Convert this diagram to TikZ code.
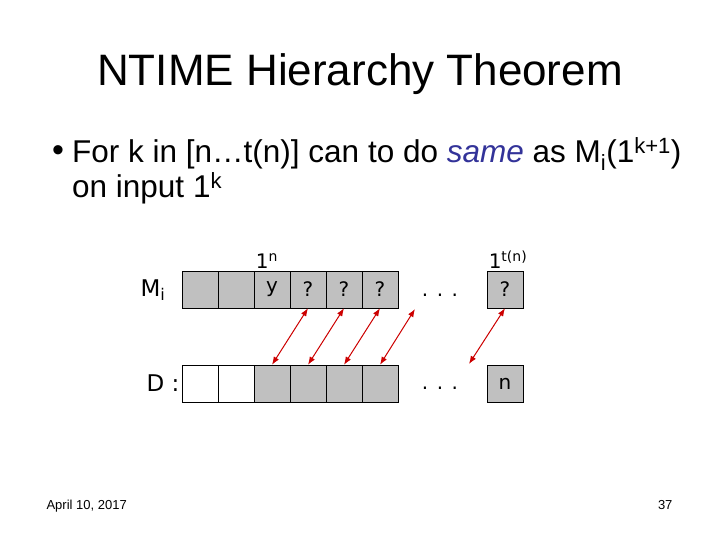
\documentclass[tikz,border=0pt]{standalone}
\usepackage{fontspec}
\setmainfont{Liberation Sans}
\newfontfamily\tapefont{DejaVu Sans}
\usepackage{xcolor}
\usetikzlibrary{arrows.meta}
\definecolor{cellgray}{RGB}{192,192,192}
\definecolor{arrowred}{RGB}{204,0,0}
\definecolor{sameblue}{RGB}{51,51,153}

\begin{document}
\begin{tikzpicture}[x=1pt, y=1pt, >={Latex[length=8pt, width=6pt]}]
\tikzstyle{every node}=[font=\tapefont\fontsize{20}{24}\selectfont]
\tikzstyle{cell}=[draw, fill=cellgray, minimum width=36pt, minimum height=37pt, inner sep=0pt]
\tikzstyle{blank}=[cell, fill=white]
\tikzstyle{link}=[<->, arrowred, line width=1pt]
\tikzstyle{slide}=[font=\normalfont\fontsize{31.5}{38}\selectfont, anchor=base west, inner sep=0pt]

\useasboundingbox (0, 0) rectangle (720, 540);

\node[anchor=base, font=\normalfont\fontsize{44}{53}\selectfont] (title) at (360, 454) {NTIME Hierarchy Theorem};

\node[slide, font=\normalfont\fontsize{34}{40}\selectfont] (bullet) at (52, 378) {•};
\node[slide] (line1) at (72, 377) {For k in [n…t(n)] can to do \textcolor{sameblue}{\textit{same}} as M\textsubscript{i}(1\textsuperscript{k+1})};
\node[slide] (line2) at (72, 342) {on input 1\textsuperscript{k}};

% M_i tape
\node[font=\tapefont\fontsize{23}{28}\selectfont] (mi) at (153, 250) {M\textsubscript{i}};
\node[cell] (t1) at (200, 250.5) {};
\node[cell] (t2) at (236, 250.5) {};
\node[cell] (t3) at (272, 250.5) {y};
\node[cell] (t4) at (308, 250.5) {?};
\node[cell] (t5) at (344, 250.5) {?};
\node[cell] (t6) at (380, 250.5) {?};
\node[anchor=base] (dotsm) at (440, 243) {. . .};
\node[cell] (tn) at (505, 250.5) {?};
    \node[anchor=base] (onen) at (267, 271) {1\textsuperscript{n}};
    \node[anchor=base] (onet) at (508, 271) {1\textsuperscript{t(n)}};

% D tape
\node[font=\tapefont\fontsize{23}{28}\selectfont] (d) at (163, 157) {D :};
\node[blank] (b1) at (200, 156.5) {};
\node[blank] (b2) at (236, 156.5) {};
\node[cell] (b3) at (272, 156.5) {};
\node[cell] (b4) at (308, 156.5) {};
\node[cell] (b5) at (344, 156.5) {};
\node[cell] (b6) at (380, 156.5) {};
\node[anchor=base] (dotsd) at (440, 150) {. . .};
\node[cell] (bn) at (505, 156.5) {n};

% links between the tapes
\coordinate (free1) at (415, 231);
\coordinate (free2) at (469, 176);
\draw[link] (t4.south) -- (b3.north);
\draw[link] (t5.south) -- (b4.north);
\draw[link] (t6.south) -- (b5.north);
\draw[link] (free1) -- (b6.north);
\draw[link] (tn.south) -- (free2);

\node[anchor=base west, font=\normalfont\fontsize{13}{16}\selectfont] (date) at (43, 30) {April 10, 2017};
\node[anchor=base east, font=\normalfont\fontsize{13}{16}\selectfont] (page) at (676, 30) {37};

\end{tikzpicture}
\end{document}
